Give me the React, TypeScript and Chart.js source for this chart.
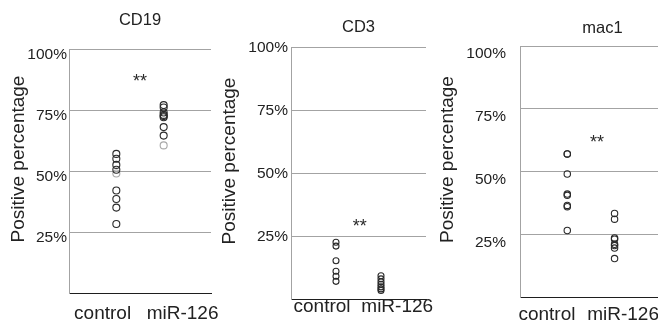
import React, { useEffect, useRef } from 'react';
import { Chart, registerables } from 'chart.js';

Chart.register(...registerables);

// ---------- data ----------
const categories = ['control', 'miR-126'];
const yTickValues = [0, 25, 50, 75, 100];
const yAxisTitle = 'Positive percentage';
const sigText = '**';

const cd19Control = [57, 55, 52.5, 50.5, 42, 38.5, 35, 28.3];
const cd19ControlLight = [49];
const cd19Mir = [77, 76, 74, 73, 72.5, 72, 68, 64.5];
const cd19MirLight = [60.5];

const cd3Control = [22.5, 21, 15.2, 11, 9, 7];
const cd3Mir = [9.2, 8, 6.8, 5.8, 4.8, 4, 3.4];

const mac1Control = [57, 57, 49, 41, 40.5, 36.5, 36, 26.5];
const mac1Mir = [33.3, 31, 23.5, 23, 21, 20.5, 19.5, 15.3];

const sigValues = [88, 30, 63];

// ---------- style ----------
const FONT = "'Liberation Sans', Arial, sans-serif";
const TEXT = '#222222';
const DARK = '#2a2a2a';
const LIGHT = '#a8a8a8';
const GRID = '#a3a3a3';
const H = 321;

type Panel = {
  title: string;
  control: number[];
  controlLight: number[];
  mir: number[];
  mirLight: number[];
  sig: number;
  sigX: number;
  canvasLeft: number;
  canvasWidth: number;
  areaLeft: number;
  areaRight: number;
  areaTop: number;
  areaBottom: number;
  xMax: number;
  labelAt: number[];
  titleCenterY: number;
  yTitleX: number;
  tickPad: number;
  tickOffset: number;
  xLabelPad: number;
  radius: number;
};

const panels: Panel[] = [
  {
    title: 'CD19', control: cd19Control, controlLight: cd19ControlLight, mir: cd19Mir, mirLight: cd19MirLight,
    sig: sigValues[0], sigX: 1.5,
    canvasLeft: 0, canvasWidth: 262, areaLeft: 69, areaRight: 211, areaTop: 49, areaBottom: 293,
    xMax: 3, labelAt: [0.71, 2.4], titleCenterY: 20.8, yTitleX: 18.3,
    tickPad: 2, tickOffset: 6, xLabelPad: 9.5, radius: 3.5,
  },
  {
    title: 'CD3', control: cd3Control, controlLight: [], mir: cd3Mir, mirLight: [],
    sig: sigValues[1], sigX: 1.53,
    canvasLeft: 215, canvasWidth: 262, areaLeft: 76, areaRight: 211, areaTop: 47, areaBottom: 299,
    xMax: 3, labelAt: [0.69, 2.36], titleCenterY: 27.5, yTitleX: 15,
    tickPad: 3, tickOffset: 1, xLabelPad: -4, radius: 3,
  },
  {
    title: 'mac1', control: mac1Control, controlLight: [], mir: mac1Mir, mirLight: [],
    sig: sigValues[2], sigX: 1.63,
    canvasLeft: 436, canvasWidth: 300, areaLeft: 84, areaRight: 249, areaTop: 46, areaBottom: 297,
    xMax: 3.49, labelAt: [0.57, 2.18], titleCenterY: 28.5, yTitleX: 12,
    tickPad: 14, tickOffset: 8, xLabelPad: 6.6, radius: 3.2,
  },
];

const sigPlugin = {
  id: 'sig',
  afterDatasetsDraw(chart: any, _args: any, opts: any) {
    const { ctx, scales } = chart;
    ctx.save();
    ctx.font = `${opts.size}px ${FONT}`;
    ctx.fillStyle = opts.color;
    ctx.textAlign = 'center';
    ctx.textBaseline = 'middle';
    ctx.fillText(opts.text, scales.x.getPixelForValue(opts.x), scales.y.getPixelForValue(opts.y) + opts.size * 0.22);
    ctx.restore();
  },
};

const yTitlePlugin = {
  id: 'yTitle',
  afterDraw(chart: any, _args: any, opts: any) {
    const { ctx, chartArea } = chart;
    ctx.save();
    ctx.translate(opts.x, (chartArea.top + chartArea.bottom) / 2 + opts.shift);
    ctx.rotate(-Math.PI / 2);
    ctx.font = `${opts.size}px ${FONT}`;
    ctx.fillStyle = opts.color;
    ctx.textAlign = 'center';
    ctx.textBaseline = 'middle';
    ctx.fillText(opts.text, 0, 0);
    ctx.restore();
  },
};

function PanelChart({ p }: { p: Panel }) {
  const ref = useRef<HTMLCanvasElement>(null);
  useEffect(() => {
    if (!ref.current) return;
    const titleSize = 16.5;
    const titleLH = titleSize * 1.2;
    const padTop = p.titleCenterY - titleLH / 2;
    const ds = (vals: number[], x: number, color: string) => ({
      data: vals.map((v) => ({ x, y: v })),
      pointStyle: 'circle',
      pointRadius: p.radius,
      pointBorderWidth: 1.1,
      pointBorderColor: color,
      pointBackgroundColor: 'rgba(255,255,255,0)',
      showLine: false,
    });
    const chart = new Chart(ref.current, {
      type: 'scatter',
      data: {
        datasets: [
          ds(p.control, 1, DARK),
          ds(p.controlLight, 1, LIGHT),
          ds(p.mir, 2, DARK),
          ds(p.mirLight, 2, LIGHT),
        ],
      },
      options: {
        animation: false,
        responsive: false,
        events: [],
        layout: { padding: { left: 0, right: p.canvasWidth - p.areaRight, top: 0, bottom: 0 } },
        plugins: {
          legend: { display: false },
          tooltip: { enabled: false },
          title: {
            display: true,
            fullSize: false,
            text: p.title,
            color: TEXT,
            font: { family: FONT, size: titleSize, weight: 'normal', lineHeight: 1.2 },
            padding: { top: padTop, bottom: p.areaTop - padTop - titleLH },
          },
          sig: { text: sigText, x: p.sigX, y: p.sig, size: 18, color: DARK },
          yTitle: { text: yAxisTitle, x: p.yTitleX, shift: -12, size: 19, color: TEXT },
        } as any,
        scales: {
          x: {
            type: 'linear',
            min: 0,
            max: p.xMax,
            grid: { display: false, drawTicks: false },
            border: { display: true, color: '#1e1e1e', width: 1 },
            afterBuildTicks: (s: any) => {
              s.ticks = p.labelAt.map((v) => ({ value: v }));
            },
            afterFit: (s: any) => {
              s.height = H - p.areaBottom;
            },
            ticks: {
              autoSkip: false,
              maxRotation: 0,
              minRotation: 0,
              padding: p.xLabelPad,
              color: TEXT,
              font: { family: FONT, size: 19 },
              callback: (_v: any, i: number) => categories[i],
            },
          },
          y: {
            type: 'linear',
            min: 0,
            max: 100,
            afterBuildTicks: (s: any) => {
              s.ticks = yTickValues.map((v) => ({ value: v }));
            },
            afterFit: (s: any) => {
              s.width = p.areaLeft;
            },
            grid: {
              drawTicks: false,
              lineWidth: 1,
              color: (c: any) => (c.tick && c.tick.value === 0 ? 'rgba(0,0,0,0)' : GRID),
            },
            border: { display: true, color: GRID, width: 1 },
            ticks: {
              padding: p.tickPad,
              labelOffset: p.tickOffset,
              color: TEXT,
              font: { family: FONT, size: 15.5 },
              callback: (v: any) => (v === 0 ? '' : `${v}%`),
            },
          },
        },
      } as any,
      plugins: [sigPlugin, yTitlePlugin] as any,
    });
    return () => chart.destroy();
  }, [p]);
  return (
    <canvas
      ref={ref}
      width={p.canvasWidth}
      height={H}
      style={{ position: 'absolute', left: p.canvasLeft, top: 0, width: p.canvasWidth, height: H, display: 'block' }}
    />
  );
}

export default function App() {
  return (
    <div
      style={{
        position: 'fixed',
        left: 0,
        top: 0,
        width: 658,
        height: H,
        overflow: 'hidden',
        background: '#ffffff',
      }}
    >
      {panels.map((p, i) => (
        <PanelChart key={i} p={p} />
      ))}
    </div>
  );
}
